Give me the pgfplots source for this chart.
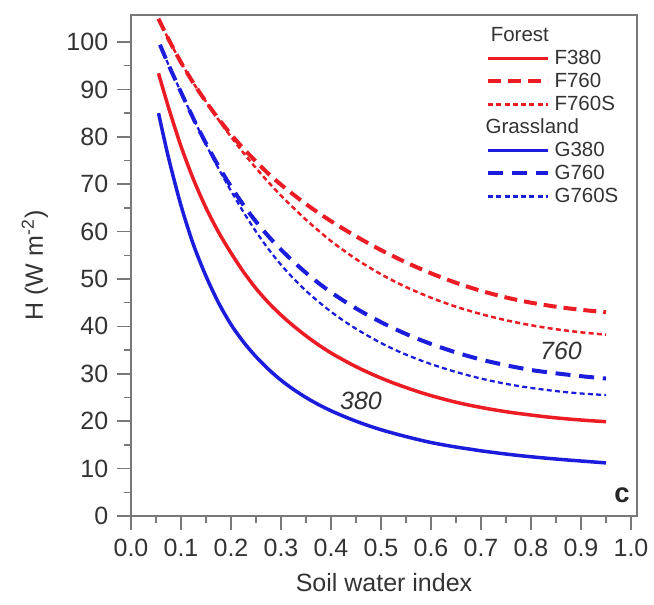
\documentclass[border=0pt]{standalone}
\usepackage{fontspec}
\setmainfont{Liberation Sans}
\usepackage{pgfplots}
\pgfplotsset{compat=1.18}
\usetikzlibrary{calc}
\definecolor{cred}{RGB}{236,28,36}
\definecolor{cblue}{RGB}{28,28,220}
\definecolor{axgray}{RGB}{120,120,120}
\begin{document}
\begin{tikzpicture}
\begin{axis}[
  scale only axis,
  width=202.4pt, height=200.4pt,
  xmin=0, xmax=1.012, ymin=0, ymax=105.7,
  xtick={0,0.1,0.2,0.3,0.4,0.5,0.6,0.7,0.8,0.9,1.0},
  ytick={0,10,20,30,40,50,60,70,80,90,100},
  minor x tick num=1, minor y tick num=1,
  xtick pos=bottom, ytick pos=left,
  tick align=outside,
  major tick length=5.6pt, minor tick length=2.8pt,
  every tick/.style={axgray, line width=0.6pt},
  axis line style={axgray, line width=0.7pt},
  /pgf/number format/assume math mode=true,
  xticklabel style={/pgf/number format/.cd, fixed, fixed zerofill, precision=1},
  yticklabel style={/pgf/number format/.cd, fixed, precision=0},
  tick label style={font=\fontsize{10}{12}\selectfont, text=black!80},
  xlabel={Soil water index},
  ylabel={H (W m\textsuperscript{-2})},
  label style={font=\fontsize{10}{12}\selectfont, text=black!80},
  xlabel style={at={(axis description cs:0.5,-0.132)}, anchor=center},
  ylabel style={at={(axis description cs:-0.19,0.5)}, anchor=center},
  clip=false,
  legend cell align=left,
  legend image code/.code={\draw[#1] (0pt,0pt) -- (24pt,0pt);},
  legend style={at={(axis description cs:0.982,0.993)}, anchor=north east,
    draw=none, fill=none, font=\fontsize{8.2}{9.5}\selectfont, text=black!80,
    row sep=0pt, column sep=1.2pt,
    nodes={inner sep=0.6pt, text height=6.3pt, text depth=1.7pt}},
]
\addlegendimage{empty legend}
\addlegendentry{\hspace{-27.6pt}Forest}
\addplot[cred, line width=1.4pt, smooth] coordinates {
(0.055,93.4)(0.075,86.2)(0.1,78.0)(0.125,71.0)(0.15,65.0)(0.175,59.9)(0.2,55.5)(0.225,51.5)(0.25,48.0)(0.275,45.0)(0.3,42.4)(0.325,40.1)(0.35,38.0)(0.375,36.1)(0.4,34.4)(0.425,32.9)(0.45,31.5)(0.475,30.25)(0.5,29.1)(0.525,28.05)(0.55,27.1)(0.575,26.2)(0.6,25.4)(0.625,24.67)(0.65,24.0)(0.675,23.42)(0.7,22.9)(0.725,22.43)(0.75,22.0)(0.775,21.63)(0.8,21.3)(0.825,20.98)(0.85,20.7)(0.875,20.46)(0.9,20.25)(0.925,20.06)(0.95,19.9)};
\addlegendentry{F380}
\addplot[cred, line width=1.6pt, smooth, dash pattern=on 5.2pt off 2.8pt] coordinates {
(0.055,104.9)(0.075,100.6)(0.1,95.7)(0.125,91.3)(0.15,87.4)(0.175,83.8)(0.2,80.5)(0.225,77.5)(0.25,74.8)(0.275,72.2)(0.3,69.9)(0.325,67.8)(0.35,65.8)(0.375,63.95)(0.4,62.2)(0.425,60.57)(0.45,59.0)(0.475,57.52)(0.5,56.1)(0.525,54.78)(0.55,53.5)(0.575,52.32)(0.6,51.2)(0.625,50.17)(0.65,49.2)(0.675,48.32)(0.7,47.5)(0.725,46.78)(0.75,46.1)(0.775,45.53)(0.8,45.0)(0.825,44.56)(0.85,44.15)(0.875,43.81)(0.9,43.5)(0.925,43.24)(0.95,43.0)};
\addlegendentry{F760}
\addplot[cred, line width=1.0pt, smooth, dash pattern=on 2pt off 1.3pt] coordinates {
(0.055,104.9)(0.075,100.6)(0.1,95.7)(0.125,91.3)(0.15,87.4)(0.175,83.6)(0.2,80.0)(0.225,76.6)(0.25,73.4)(0.275,70.4)(0.3,67.6)(0.325,65.0)(0.35,62.5)(0.375,60.2)(0.4,58.0)(0.425,56.05)(0.45,54.2)(0.475,52.55)(0.5,51.0)(0.525,49.6)(0.55,48.3)(0.575,47.13)(0.6,46.05)(0.625,45.07)(0.65,44.15)(0.675,43.35)(0.7,42.6)(0.725,41.93)(0.75,41.3)(0.775,40.75)(0.8,40.25)(0.825,39.8)(0.85,39.4)(0.875,39.06)(0.9,38.75)(0.925,38.49)(0.95,38.25)};
\addlegendentry{F760S}
\addlegendimage{empty legend}
\addlegendentry{\hspace{-27.6pt}Grassland}
\addplot[cblue, line width=1.4pt, smooth] coordinates {
(0.055,85.0)(0.075,75.6)(0.1,65.5)(0.125,57.2)(0.15,50.6)(0.175,45.0)(0.2,40.4)(0.225,36.7)(0.25,33.6)(0.275,30.95)(0.3,28.65)(0.325,26.7)(0.35,25.0)(0.375,23.5)(0.4,22.2)(0.425,21.05)(0.45,20.0)(0.475,19.05)(0.5,18.2)(0.525,17.45)(0.55,16.75)(0.575,16.1)(0.6,15.5)(0.625,15.0)(0.65,14.55)(0.675,14.15)(0.7,13.75)(0.725,13.4)(0.75,13.07)(0.775,12.77)(0.8,12.5)(0.825,12.25)(0.85,12.02)(0.875,11.8)(0.9,11.6)(0.925,11.4)(0.95,11.2)};
\addlegendentry{G380}
\addplot[cblue, line width=1.6pt, smooth, dash pattern=on 6pt off 3.5pt] coordinates {
(0.058,99.4)(0.075,95.2)(0.1,89.4)(0.125,83.8)(0.15,78.6)(0.175,73.8)(0.2,69.5)(0.225,65.6)(0.25,62.1)(0.275,59.0)(0.3,56.2)(0.325,53.65)(0.35,51.3)(0.375,49.15)(0.4,47.2)(0.425,45.43)(0.45,43.8)(0.475,42.3)(0.5,40.9)(0.525,39.6)(0.55,38.4)(0.575,37.3)(0.6,36.3)(0.625,35.37)(0.65,34.5)(0.675,33.72)(0.7,33.0)(0.725,32.38)(0.75,31.8)(0.775,31.28)(0.8,30.8)(0.825,30.43)(0.85,30.1)(0.875,29.79)(0.9,29.5)(0.925,29.24)(0.95,29.0)};
\addlegendentry{G760}
\addplot[cblue, line width=0.9pt, smooth, dash pattern=on 2pt off 1.3pt] coordinates {
(0.058,99.4)(0.075,95.2)(0.1,89.4)(0.125,83.8)(0.15,78.4)(0.175,73.3)(0.2,68.6)(0.225,64.1)(0.25,60.0)(0.275,56.3)(0.3,53.0)(0.325,50.1)(0.35,47.5)(0.375,45.2)(0.4,43.1)(0.425,41.2)(0.45,39.5)(0.475,37.95)(0.5,36.5)(0.525,35.2)(0.55,34.05)(0.575,33.0)(0.6,32.05)(0.625,31.18)(0.65,30.38)(0.675,29.66)(0.7,29.0)(0.725,28.4)(0.75,27.88)(0.775,27.42)(0.8,27.02)(0.825,26.67)(0.85,26.35)(0.875,26.08)(0.9,25.85)(0.925,25.67)(0.95,25.5)};
\addlegendentry{G760S}
\node[font=\itshape\fontsize{10}{12}\selectfont, text=black!80] at (axis cs:0.46,24.3) {380};
\node[font=\itshape\fontsize{10}{12}\selectfont, text=black!80] at (axis cs:0.86,34.8) {760};
\node[font=\bfseries\fontsize{11}{13}\selectfont, text=black!85] at (axis cs:0.982,4.4) {c};
\end{axis}
\pgfresetboundingbox
\path ($(current axis.south west)+(-52.4pt,-35.6pt)$) rectangle ($(current axis.north east)+(6.8pt,6pt)$);
\end{tikzpicture}
\end{document}
